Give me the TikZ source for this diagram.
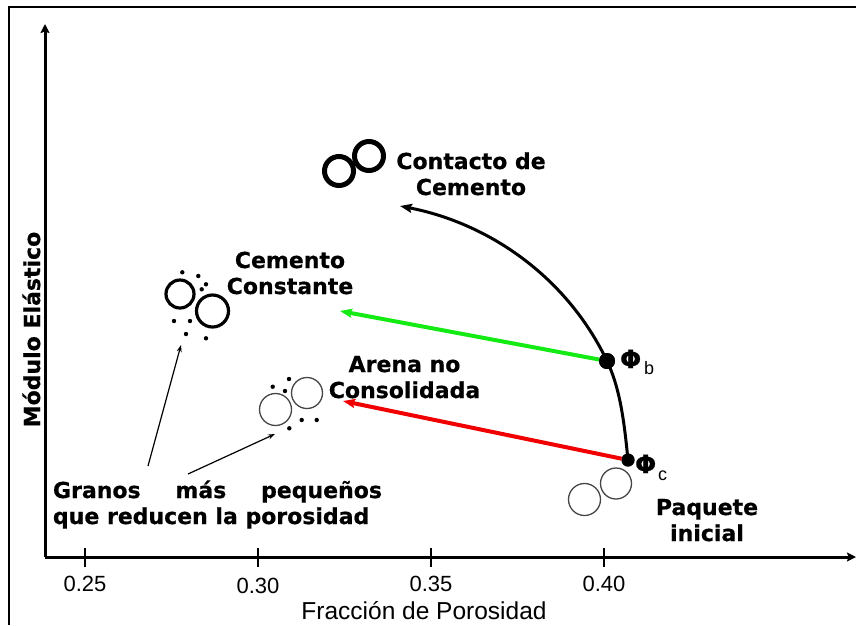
\documentclass[tikz,border=0pt]{standalone}
\usepackage{fontspec}
\setmainfont{DejaVu Sans}
\newfontfamily\axisfont{Liberation Sans}
\newfontfamily\heavyfont{DejaVu Sans Bold}[FakeBold=0.6]
\usetikzlibrary{arrows.meta}
\definecolor{grain}{RGB}{70,70,70}
\definecolor{cgreen}{RGB}{20,235,20}
\definecolor{cred}{RGB}{240,0,0}
\begin{document}
\begin{tikzpicture}[x=1pt,y=-1pt,
  every node/.style={inner sep=0pt, outer sep=0pt},
  frameline/.style={line width=2.7pt},
  axisline/.style={line width=3pt, -{Stealth[length=9pt,width=9pt,inset=1.5pt]}},
  tickline/.style={line width=2.5pt},
  biglabel/.style={font=\heavyfont\fontsize{22}{26}\selectfont, anchor=base},
  numlabel/.style={font=\axisfont\fontsize{22}{26}\selectfont, anchor=base},
  thickgrain/.style={circle, draw=black, line width=5pt, minimum size=29pt},
  cemgrain/.style={circle, draw=black, line width=3.2pt},
  loosegrain/.style={circle, draw=grain, line width=1.3pt},
  fine/.style={circle, fill=black, minimum size=4.4pt},
  phidot/.style={circle, fill=black},
  phisym/.style={font=\heavyfont\fontsize{25}{28}\selectfont, anchor=base west},
  phisub/.style={font=\axisfont\fontsize{18}{20}\selectfont, anchor=base west},
  mainarrow/.style={line width=4pt, -{Stealth[length=12pt,width=9pt,inset=2pt]}},
  pointer/.style={line width=1.2pt, -{Stealth[length=7pt,width=5pt]}}
]
\useasboundingbox (0,0) rectangle (856,625);
\fill[white] (0,0) rectangle (856,625);

% frame (top and left edges)
\draw[frameline] (9,625) -- (9,7) -- (856,7);

% axes
\coordinate (origin) at (45,557);
\coordinate (ytop) at (45,24);
\coordinate (xend) at (856,557);
\draw[axisline] (origin) -- (ytop);
\draw[axisline] (origin) -- (xend);

% ticks and their values
\foreach \tx/\val/\ty in {85/0.25/591, 258/0.30/593, 431/0.35/591, 604/0.40/591}{
  \draw[tickline] (\tx,548) -- (\tx,567);
  \node[numlabel] (tick\val) at (\tx,\ty) {\val};
}
\node[font=\axisfont\fontsize{24.5}{28}\selectfont, anchor=base] (xtitle) at (424,619) {Fracción de Porosidad};
\node[biglabel, rotate=90] (ytitle) at (40,329.5) {Módulo Elástico};

% porosity path: initial pack -> phi_b -> cement contact
\node[phidot, minimum size=13pt] (pc) at (628,460) {};
\node[phidot, minimum size=16pt] (pb) at (607,361) {};
\coordinate (arctop) at (400,206);
\draw[line width=3pt, -{Stealth[length=12pt,width=9pt,inset=2pt]}]
  (pc.center) .. controls (624.6,427.2) and (621.2,390.8) .. (pb.center)
  .. controls (567.4,278) and (490.3,223.6) .. (arctop);
\node[phidot, minimum size=13pt] at (pc) {};
\node[phidot, minimum size=16pt] at (pb) {};

% constant cement and unconsolidated sand trends
\coordinate (gtip) at (340,311);
\coordinate (rtip) at (343,401);
\draw[mainarrow, cgreen] (pb) -- (gtip);
\draw[mainarrow, cred] (pc) -- (rtip);

% phi labels
\node[phisym] (phib) at (620,368) {Φ};
\node[phisub] (phibsub) at (644,374) {b};
\node[phisym] (phic) at (635,473) {Φ};
\node[phisub] (phicsub) at (658,480) {c};

% cement contact grains
\node[thickgrain] (cc1) at (339,171) {};
\node[thickgrain] (cc2) at (369,156) {};
\node[biglabel] (cclabel) at (471,169)
  {\begin{tabular}[t]{@{}c@{}}Contacto de\\Cemento\end{tabular}};

% constant cement grains with fines
\node[cemgrain, minimum size=28pt] (cg1) at (180,294) {};
\node[cemgrain, minimum size=32pt] (cg2) at (212.5,311) {};
\foreach \i/\px/\py in {1/182.3/272.3, 2/198.3/276, 3/206/284.3, 4/201.7/289.3,
                        5/174/321, 6/190/321, 7/186/334, 8/206/338.3}{
  \node[fine] (cf\i) at (\px,\py) {};
}
\node[biglabel] (cglabel) at (290,268)
  {\begin{tabular}[t]{@{}c@{}}Cemento\\Constante\end{tabular}};

% unconsolidated sand grains with fines
\node[loosegrain, minimum size=32pt] (ug1) at (275.5,409.5) {};
\node[loosegrain, minimum size=31pt] (ug2) at (307,393) {};
\foreach \i/\px/\py in {1/272.7/386.7, 2/289/379, 3/285/391,
                        4/301.7/420, 5/316.7/420, 6/289.3/428.3}{
  \node[fine] (uf\i) at (\px,\py) {};
}
\node[biglabel] (uglabel) at (404.5,372)
  {\begin{tabular}[t]{@{}c@{}}Arena no\\Consolidada\end{tabular}};

% initial pack grains
\node[loosegrain, minimum size=32pt] (ip1) at (584.5,499.5) {};
\node[loosegrain, minimum size=31pt] (ip2) at (616,483.5) {};
\node[biglabel] (iplabel) at (707,515)
  {\begin{tabular}[t]{@{}c@{}}Paquete\\inicial\end{tabular}};

% smaller grains note with pointers
\node[biglabel, anchor=base west] (note) at (53,498)
  {\begin{tabular}[t]{@{}l@{}}\makebox[329pt][s]{Granos más pequeños}\\que reducen la porosidad\end{tabular}};
\coordinate (n1) at (148,466);
\coordinate (n1tip) at (181,345);
\coordinate (n2) at (188,474);
\coordinate (n2tip) at (275,434);
\draw[pointer] (n1) -- (n1tip);
\draw[pointer] (n2) -- (n2tip);
\end{tikzpicture}
\end{document}
